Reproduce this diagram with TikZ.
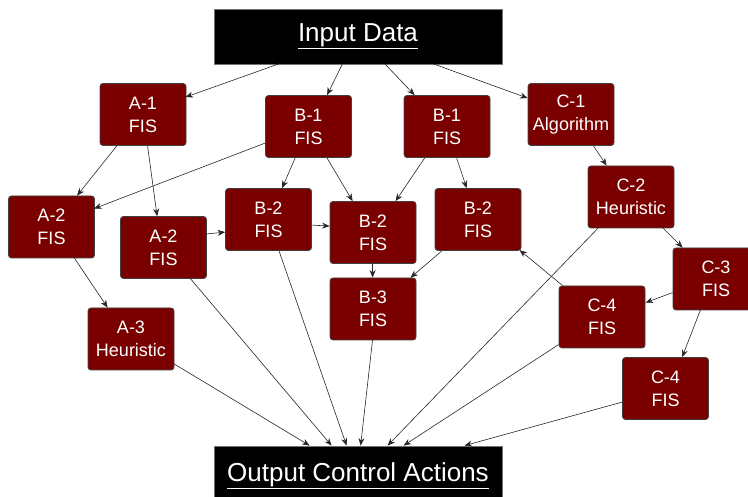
\documentclass[tikz,border=0pt]{standalone}
\usepackage{fontspec}
\setmainfont{Liberation Sans}
\usetikzlibrary{arrows.meta}
\definecolor{boxred}{RGB}{122,0,0}
\begin{document}
\begin{tikzpicture}[x=1pt,y=-1pt,
  unit/.style={draw=black!75, fill=boxred, rounded corners=3pt,
    minimum width=86pt, minimum height=62pt, inner sep=0pt,
    align=center, text=white, font=\fontsize{18}{23}\selectfont, line width=0.8pt},
  bar/.style={fill=black, draw=black!55, line width=0.8pt,
    minimum width=288pt, inner sep=0pt,
    text=white, font=\fontsize{26}{30}\selectfont},
  flow/.style={-{Stealth[length=7.5pt,width=6pt]}, line width=0.6pt, black!85}]

\useasboundingbox (0,0) rectangle (748,497);

% top and bottom bars
\node[bar, minimum height=55pt] (In)  at (358,36.5) {\underline{Input Data}};
\node[bar, minimum height=60pt] (Out) at (358,476)  {\underline{Output Control Actions}};

% branch A
\node[unit] (A1)  at (143,114.5)  {A-1\\FIS};
\node[unit] (A2L) at (51.5,227)   {A-2\\FIS};
\node[unit] (A2M) at (163.5,247.5){A-2\\FIS};
\node[unit] (A3)  at (131,339)    {A-3\\Heuristic};

% branch B
\node[unit] (B1L) at (308.5,126.5) {B-1\\FIS};
\node[unit] (B1R) at (447,126.5)   {B-1\\FIS};
\node[unit] (B2L) at (268.5,219.5) {B-2\\FIS};
\node[unit] (B2M) at (373,232.5)   {B-2\\FIS};
\node[unit] (B2R) at (478,219.5)   {B-2\\FIS};
\node[unit] (B3)  at (373,309)     {B-3\\FIS};

% branch C
\node[unit] (C1)  at (571,114.5) {C-1\\Algorithm};
\node[unit] (C2)  at (631,197)   {C-2\\Heuristic};
\node[unit] (C3)  at (716,279)   {C-3\\FIS};
\node[unit] (C4U) at (602,317)   {C-4\\FIS};
\node[unit] (C4L) at (665.5,388.5) {C-4\\FIS};

% connectors (offsets measured from each node's north west corner)
\draw[flow] ([shift={(66,55)}]In.north west)  -- ([shift={(86,14)}]A1.north west);
\draw[flow] ([shift={(129,55)}]In.north west) -- ([shift={(62,0)}]B1L.north west);
\draw[flow] ([shift={(171,55)}]In.north west) -- ([shift={(11,0)}]B1R.north west);
\draw[flow] ([shift={(219,55)}]In.north west) -- ([shift={(0,15)}]C1.north west);

\draw[flow] ([shift={(17,63)}]A1.north west)  -- ([shift={(69,0)}]A2L.north west);
\draw[flow] ([shift={(48,63)}]A1.north west)  -- ([shift={(37,0)}]A2M.north west);
\draw[flow] ([shift={(0,48)}]B1L.north west)  -- ([shift={(86,13)}]A2L.north west);
\draw[flow] ([shift={(66,62)}]A2L.north west) -- ([shift={(20,0)}]A3.north west);
\draw[flow] ([shift={(85,18)}]A2M.north west) -- ([shift={(0,44)}]B2L.north west);

\draw[flow] ([shift={(30,63)}]B1L.north west) -- ([shift={(57,0)}]B2L.north west);
\draw[flow] ([shift={(62,63)}]B1L.north west) -- ([shift={(23,0)}]B2M.north west);
\draw[flow] ([shift={(21,63)}]B1R.north west) -- ([shift={(66,0)}]B2M.north west);
\draw[flow] ([shift={(53,63)}]B1R.north west) -- ([shift={(32,0)}]B2R.north west);
\draw[flow] ([shift={(87,37)}]B2L.north west) -- ([shift={(0,25)}]B2M.north west);
\draw[flow] ([shift={(43,61)}]B2M.north west) -- ([shift={(43,0)}]B3.north west);
\draw[flow] ([shift={(7,63)}]B2R.north west)  -- ([shift={(81,0)}]B3.north west);

\draw[flow] ([shift={(66,63)}]C1.north west)  -- ([shift={(19,0)}]C2.north west);
\draw[flow] ([shift={(75,62)}]C2.north west)  -- ([shift={(10,0)}]C3.north west);
\draw[flow] ([shift={(0,45)}]C3.north west)   -- ([shift={(87,17)}]C4U.north west);
\draw[flow] ([shift={(28,62)}]C3.north west)  -- ([shift={(60,0)}]C4L.north west);
\draw[flow] ([shift={(4,0)}]C4U.north west)   -- ([shift={(85,62)}]B2R.north west);

% into the output bar
\draw[flow] ([shift={(86,56)}]A3.north west)  -- ([shift={(96,0)}]Out.north west);
\draw[flow] ([shift={(69,61)}]A2M.north west) -- ([shift={(118,0)}]Out.north west);
\draw[flow] ([shift={(54,63)}]B2L.north west) -- ([shift={(133,0)}]Out.north west);
\draw[flow] ([shift={(43,62)}]B3.north west)  -- ([shift={(147,0)}]Out.north west);
\draw[flow] ([shift={(11,62)}]C2.north west)  -- ([shift={(174,0)}]Out.north west);
\draw[flow] ([shift={(0,59)}]C4U.north west)  -- ([shift={(190,0)}]Out.north west);
\draw[flow] ([shift={(0,45)}]C4L.north west)  -- ([shift={(251,0)}]Out.north west);
\end{tikzpicture}
\end{document}
